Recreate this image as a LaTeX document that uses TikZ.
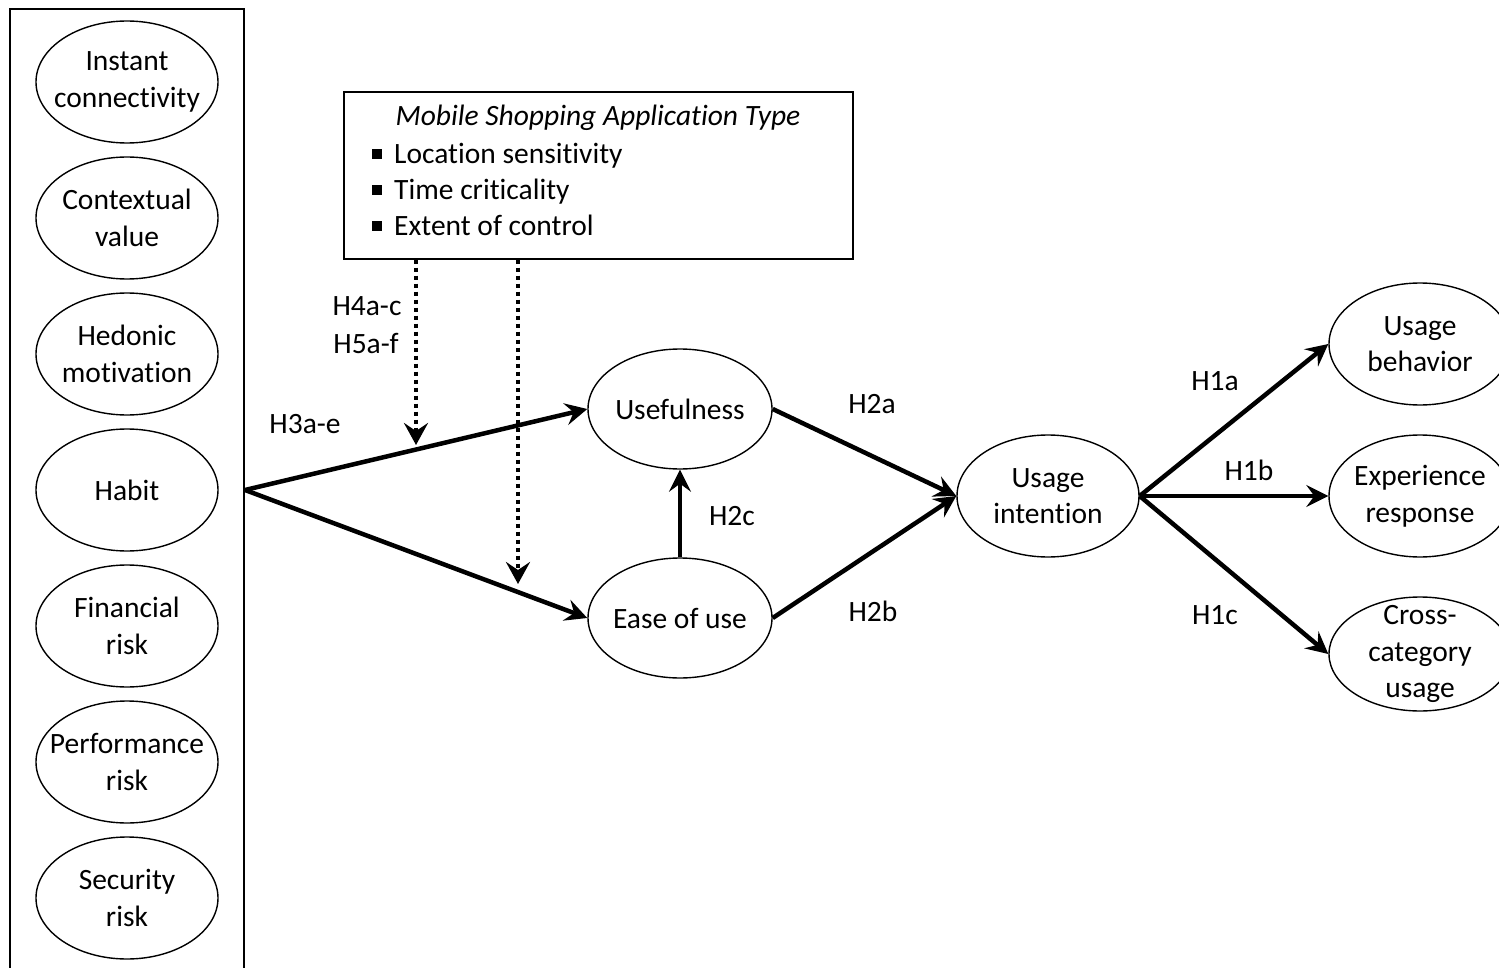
\documentclass[tikz,border=0pt]{standalone}
\usepackage{fontspec}
\setmainfont{Carlito}[Ligatures={NoCommon}]
\usetikzlibrary{shapes.geometric,arrows.meta}
\begin{document}
\begin{tikzpicture}[x=1pt,y=-1pt,
  every node/.style={font=\fontsize{29.5}{36.5}\selectfont},
  cons/.style={draw,ellipse,line width=1.4pt,minimum width=182pt,minimum height=122pt,inner xsep=-40pt,inner ysep=-20pt,align=center},
  path/.style={line width=4.5pt,-{Stealth[length=22pt,width=22pt,inset=8pt]}},
  moder/.style={line width=4pt,dash pattern=on 4pt off 4pt,-{Stealth[length=22pt,width=24pt,inset=8pt]}},
  lbl/.style={inner sep=0pt},
  bul/.style={inner sep=0pt,anchor=base west}]
\useasboundingbox (0,0) rectangle (1499,968);
\clip (0,0) rectangle (1499,968);
% left frame
\draw[line width=1.4pt] (10,9) rectangle (244,990);
\node[cons] (ic) at (127,82) {Instant\\connectivity};
\node[cons] (cv) at (127,218) {Contextual\\value};
\node[cons] (hm) at (127,354) {Hedonic\\motivation};
\node[cons] (hb) at (127,490) {Habit};
\node[cons] (fr) at (127,626) {Financial\\risk};
\node[cons] (pr) at (127,762) {Performance\\risk};
\node[cons] (sr) at (127,898) {Security\\risk};
\coordinate (hub) at (245,490);
% moderator box
\node[draw,line width=1.4pt,minimum width=509pt,minimum height=167pt,inner sep=0pt] (box) at (598.5,175.5) {};
\node[lbl] (title) at (598,118) {\itshape Mobile Shopping Application Type};
\node[bul] (b1) at (372,164) {\raisebox{5pt}{\rule{10pt}{10pt}}\hspace{12pt}Location sensitivity};
\node[bul] (b2) at (372,200) {\raisebox{5pt}{\rule{10pt}{10pt}}\hspace{12pt}Time criticality};
\node[bul] (b3) at (372,236) {\raisebox{5pt}{\rule{10pt}{10pt}}\hspace{12pt}Extent of control};
% mediators and outcomes
\node[cons,minimum width=184pt,minimum height=120pt] (use) at (680,409) {Usefulness};
\node[cons,minimum width=184pt,minimum height=120pt] (ease) at (680,618) {Ease of use};
\node[cons] (ui) at (1048,496) {Usage\\intention};
\node[cons] (ub) at (1420,344) {Usage\\behavior};
\node[cons] (er) at (1420,496) {Experience\\response};
\node[cons,minimum height=114pt] (cc) at (1420,654) {Cross-\\category\\usage};
% paths
\draw[path] (hub) -- (use.west);
\draw[path] (hub) -- (ease.west);
\draw[path] (ease.north) -- (use.south);
\draw[path] (use.east) -- (ui.west);
\draw[path] (ease.east) -- (ui.west);
\draw[path] (ui.east) -- (ub.west);
\draw[path] (ui.east) -- (er.west);
\draw[path] (ui.east) -- (cc.west);
% moderation
\coordinate (m1) at (416,445);
\coordinate (m2) at (518,584);
\draw[moder] (box.south -| m1) -- (m1);
\draw[moder] (box.south -| m2) -- (m2);
% labels
\node[lbl] (l4) at (367,306) {H4a-c};
\node[lbl] (l5) at (366,343) {H5a-f};
\node[lbl] (l3) at (305,424) {H3a-e};
\node[lbl] (l2a) at (872,404) {H2a};
\node[lbl] (l2b) at (873,611) {H2b};
\node[lbl] (l2c) at (732,516) {H2c};
\node[lbl] (l1a) at (1215,381) {H1a};
\node[lbl] (l1b) at (1249,470) {H1b};
\node[lbl] (l1c) at (1215,615) {H1c};
\end{tikzpicture}
\end{document}
